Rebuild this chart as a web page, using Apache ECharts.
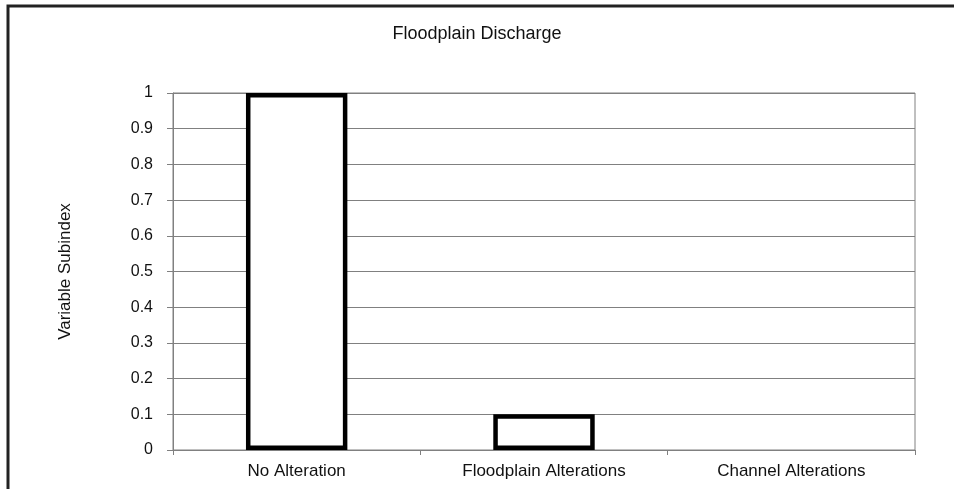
<!DOCTYPE html>
<html style="height: 100%">
<head>
    <meta charset="utf-8">
</head>
<body style="height: 100%; margin: 0; background: #fff">
<div id="chart_container" style="width: 954px; height: 489px"></div>
<script src="https://cdn.jsdelivr.net/npm/echarts@6/dist/echarts.min.js"></script>
<script type="text/javascript">

    var chartTitle = 'Floodplain Discharge';
    var yAxisName = 'Variable Subindex';
    var categories = ['No Alteration', 'Floodplain Alterations', 'Channel Alterations'];
    var subindexValues = [1, 0.1, 0];
    var yMin = 0, yMax = 1, yStep = 0.1;

    var fontName = '"Liberation Sans", Arial, sans-serif';
    var gridGray = '#808080';

    var chart = echarts.init(document.getElementById('chart_container'));

    var option = {
        backgroundColor: '#fff',
        animation: false,
        title: {
            text: chartTitle,
            left: 'center',
            top: 20,
            textStyle: {fontFamily: fontName, fontSize: 18, fontWeight: 'normal', color: '#111'}
        },
        graphic: [{
            // outer frame, only left and top edges fall inside the picture
            type: 'rect',
            shape: {x: 8, y: 6, width: 980, height: 520},
            style: {fill: null, stroke: '#222', lineWidth: 3},
            silent: true
        }],
        grid: {
            left: 173,
            right: 39,
            top: 93,
            bottom: 39,
            show: true,
            borderColor: gridGray,
            borderWidth: 1
        },
        xAxis: {
            type: 'category',
            data: categories,
            axisLine: {lineStyle: {color: gridGray, width: 1}},
            axisTick: {show: true, length: 5, lineStyle: {color: gridGray}},
            axisLabel: {fontFamily: fontName, fontSize: 17, color: '#111', margin: 13}
        },
        yAxis: {
            type: 'value',
            min: yMin,
            max: yMax,
            interval: yStep,
            name: yAxisName,
            nameLocation: 'middle',
            nameGap: 99,
            nameTextStyle: {fontFamily: fontName, fontSize: 17, color: '#111'},
            axisLine: {show: true, lineStyle: {color: gridGray, width: 1}},
            axisTick: {show: true, length: 6, lineStyle: {color: gridGray}},
            axisLabel: {
                fontFamily: fontName, fontSize: 16, color: '#111', margin: 20,
                formatter: function (v) { return String(Math.round(v * 10) / 10); }
            },
            splitLine: {show: true, lineStyle: {color: gridGray, width: 1}}
        },
        series: [{
            type: 'bar',
            barWidth: '41%',
            data: subindexValues.map(function (v) {
                return v === 0 ? {value: v, itemStyle: {borderWidth: 0}} : v;
            }),
            itemStyle: {color: '#fff', borderColor: '#000', borderWidth: 4.5},
            silent: true
        }]
    };

    chart.setOption(option);
</script>
</body>
</html>
